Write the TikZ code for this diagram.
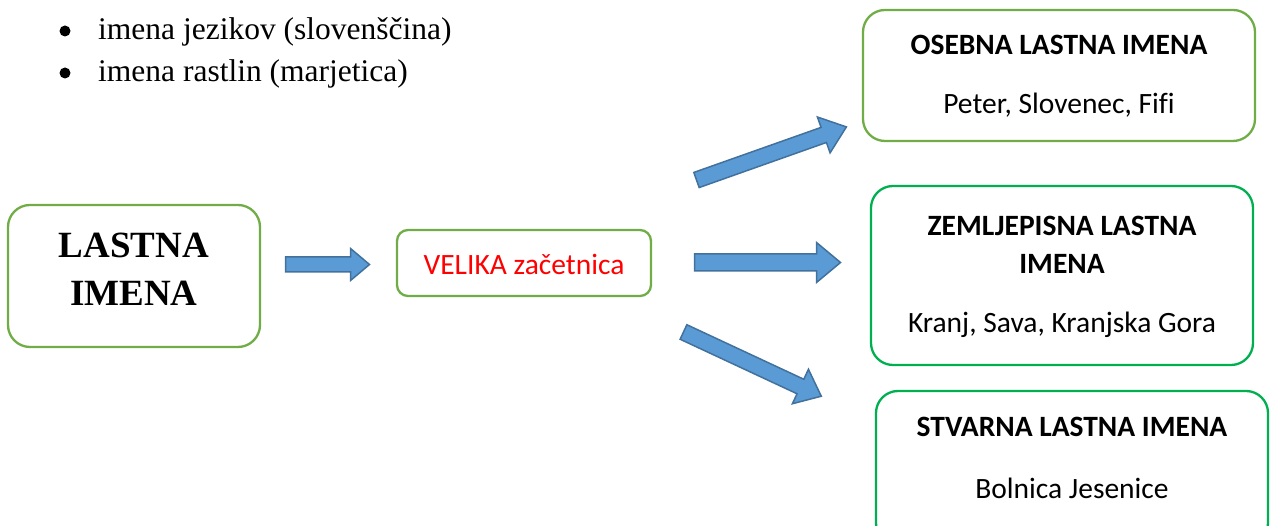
\documentclass[tikz,border=0pt]{standalone}
\usepackage{fontspec}
\setmainfont{Liberation Serif}
\newfontfamily\carlitofont[Ligatures=CommonOff]{Carlito}
\definecolor{gA}{HTML}{70AD47}
\definecolor{gB}{HTML}{00B050}
\definecolor{arrFill}{HTML}{5B9BD5}
\definecolor{arrEdge}{HTML}{41719C}
\tikzset{
  boxA/.style={draw=gA, line width=2.3pt, rounded corners=22pt, fill=white},
  boxB/.style={draw=gB, line width=2.3pt, rounded corners=22pt, fill=white},
  ttl/.style={font=\carlitofont\bfseries\fontsize{29.5}{34}\selectfont, inner sep=0pt},
  body/.style={font=\carlitofont\fontsize{29.5}{34}\selectfont, inner sep=0pt},
  blk/.style={fill=arrFill, draw=arrEdge, line width=1.5pt, line join=miter},
  bul/.style={font=\fontsize{31.5}{36}\selectfont, inner sep=0pt, anchor=base west}
}
% #1 tail centre, #2 angle, #3 length, #4 shaft half, #5 head half, #6 head length
\newcommand{\blockarr}[6]{%
  \begin{scope}[shift={#1}, rotate=#2]
    \draw[blk] (0,-#4) -- ({#3-#6},-#4) -- ({#3-#6},-#5) -- (#3,0) -- ({#3-#6},#5) -- ({#3-#6},#4) -- (0,#4) -- cycle;
  \end{scope}}
\begin{document}
\begin{tikzpicture}[x=1pt,y=1pt]
\useasboundingbox (0,0) rectangle (1271,526);
\clip (0,0) rectangle (1271,526);
% bullets
\fill (65,495) circle (5.5);
\fill (65,453) circle (5.5);
\node[bul] (b1) at (98,486) {imena jezikov (slovenščina)};
\node[bul] (b2) at (98,444) {imena rastlin (marjetica)};
% main box
\node[boxA, minimum width=252pt, minimum height=142pt] (last) at (134,250) {};
\node[font=\bfseries\fontsize{37}{48}\selectfont, align=center, inner sep=0pt] (lastt) at (134,256.5) {LASTNA\\IMENA};
% velika
\node[boxA, rounded corners=11pt, minimum width=254pt, minimum height=66pt] (vel) at (524,263) {};
\node[font=\carlitofont\fontsize{29.5}{34}\selectfont, text=red, inner sep=0pt] (velt) at (524,262) {VELIKA začetnica};
% right boxes
\node[boxA, minimum width=392pt, minimum height=131pt] (os) at (1059,450.5) {};
\node[ttl] (ost) at (1059,481) {OSEBNA LASTNA IMENA};
\node[body] (osb) at (1059,421) {Peter, Slovenec, Fifi};
\node[boxB, minimum width=382pt, minimum height=179pt] (ze) at (1062,250.5) {};
\node[ttl] (zet1) at (1062,300) {ZEMLJEPISNA LASTNA};
\node[ttl] (zet2) at (1062,262) {IMENA};
\node[body] (zeb) at (1062,201) {Kranj, Sava, Kranjska Gora};
\node[boxB, minimum width=392pt, minimum height=154pt] (st) at (1072,58) {};
\node[ttl] (stt) at (1072,99) {STVARNA LASTNA IMENA};
\node[body] (stb) at (1072,38) {Bolnica Jesenice};
% block arrows
\blockarr{(285.5,261.5)}{0}{84}{7.5}{16}{19}
\blockarr{(694.5,263.5)}{0}{146}{8.5}{20}{24}
\blockarr{(696.5,346)}{19.5}{159}{8}{19}{24}
\blockarr{(683.5,194)}{-25}{152}{8}{19}{23}
\end{tikzpicture}
\end{document}
